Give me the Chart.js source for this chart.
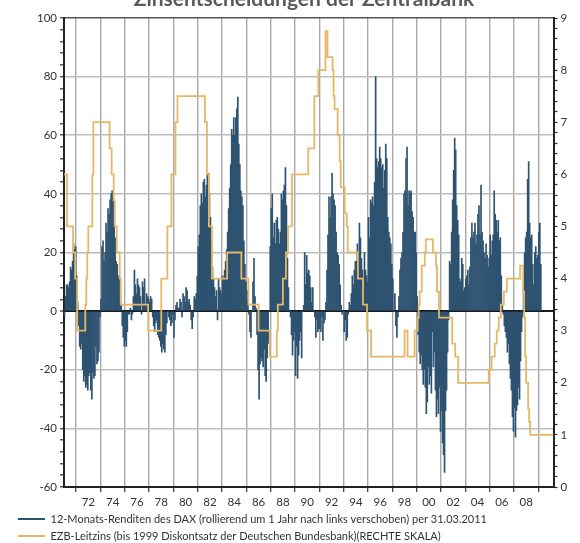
<!DOCTYPE html>
<html lang="de">
<head>
<meta charset="UTF-8">
<title>Zinsentscheidungen der Zentralbank</title>
<script src="https://cdn.jsdelivr.net/npm/chart.js"></script>
<style>
    body { margin: 0; background: #fff; }
    .wrap { position: relative; width: 580px; height: 543px; }
</style>
</head>
<body>
<div class="wrap"><canvas id="chart"></canvas></div>
<script>
    const chartTitle = 'Zinsentscheidungen der Zentralbank';
    const daxLabel = '12-Monats-Renditen des DAX (rollierend um 1 Jahr nach links verschoben) per 31.03.2011';
    const rateLabel = 'EZB-Leitzins (bis 1999 Diskontsatz der Deutschen Bundesbank)(RECHTE SKALA)';

    // DAX 12-month returns in %, monthly, first value = Jan 1971
    const daxStart = 1971;
    const dax1970s = [
        -2, 5, 9, 9, 8, 10, 15, 14, 17, 23, 21, 22,
        12, 3, -5, -12, -13, -11, -20, -24, -22, -26, -25, -27,
        -22, -21, -27, -30, -21, -23, -22, -12, -18, -17, -14, -2,
        4, 22, 24, 17, 20, 30, 27, 35, 33, 38, 40, 41,
        40, 30, 25, 17, 16, 12, 11, 7, 2, -5, -9, -12,
        -10, -12, -7, -1, -1, 1, -3, -1, 5, 14, 9, 6,
        11, 9, 8, 5, -1, 10, 8, 11, 2, 6, 5, 4,
        3, 5, 4, -2, -5, -7, -4, -3, -8, -9, -10, -12,
        -14, -11, -13, -14, -8, -4, 0, -2, -3, -5, -4, -1
    ];
    const dax1980s = [
        -9, -3, 2, 3, 1, 1, 4, 3, -2, 6, 5, 3,
        8, 7, 3, 4, 2, -3, -6, -2, 5, 4, 6, 12,
        22, 26, 36, 40, 37, 44, 45, 39, 43, 47, 47, 40,
        32, 24, 15, 11, 8, 5, 7, -3, 11, 8, 7, 6,
        12, 11, 14, 17, 21, 27, 35, 42, 50, 62, 60, 66,
        60, 66, 69, 73, 57, 50, 41, 39, 36, 24, 16, 10,
        7, 4, -1, -7, -9, 0, 10, 18, 5, 1, -8, -20,
        -30, -18, -16, -17, -19, -13, -22, -24, -16, -11, 0, 22,
        35, 40, 25, 30, 23, 31, 32, 28, 23, 27, 40, 38,
        41, 43, 49, 36, 18, 8, 0, -2, -8, -15, -10, -7
    ];
    const dax1990s = [
        -22, -12, -23, -15, -10, -7, -16, 0, 2, 20, 9, 19,
        13, 14, 12, 8, 3, 8, 0, -2, -9, -3, -7, -6,
        -6, -7, -2, -10, -4, -3, 3, 14, 26, 39, 32, 39,
        47, 40, 38, 36, 27, 20, 19, 16, 9, 2, -1, 0,
        -7, -3, -10, -9, -1, 3, 2, 6, 12, 9, 14, 17,
        17, 23, 20, 30, 25, 18, 14, 7, 20, 14, 12, 10,
        32, 25, 38, 37, 39, 36, 44, 80, 52, 49, 51, 56,
        52, 49, 50, 42, 48, 57, 52, 32, 27, 25, 23, 16,
        11, 0, 6, -5, -9, -2, 5, 14, 18, 20, 27, 40,
        41, 52, 56, 36, 41, 40, 41, 34, 32, 27, 27, 20
    ];
    const dax2000s = [
        5, -8, -14, -18, -15, -20, -25, -20, -26, -35, -31, -19,
        -25, -22, -28, -7, -19, -14, -27, -36, -30, -35, -26, -41,
        -34, -45, -49, -55, -34, -27, -14, -3, 17, 16, 27, 38,
        48, 59, 55, 36, 31, 26, 11, 10, 18, 16, 7, 8,
        11, 12, 14, 9, 15, 25, 30, 25, 27, 30, 23, 26,
        33, 36, 26, 43, 27, 24, 20, 18, 23, 19, 15, 18,
        26, 19, 24, 26, 41, 33, 31, 27, 31, 24, 25, 12,
        2, -1, -5, -7, -9, -14, -11, -18, -23, -27, -36, -41,
        -33, -43, -34, -32, -26, -30, -17, -7, -2, 9, 20, 25,
        27, 45, 51, 30, 25, 26, 16, 9, 20, 22, 18, 19,
        27, 30, 16
    ];

    // key rate in %, value valid from that month on
    const rateMonths = [
        '1971-01', '1971-04', '1971-10', '1971-12', '1972-02', '1972-10', '1972-11', '1972-12',
        '1973-01', '1973-05', '1973-06', '1974-10', '1974-12', '1975-02', '1975-03', '1975-05',
        '1975-08', '1975-09', '1977-12', '1979-01', '1979-07', '1979-11', '1980-03', '1980-05',
        '1982-08', '1982-10', '1982-12', '1983-03', '1984-06', '1985-08', '1986-03', '1987-01',
        '1987-12', '1988-07', '1988-08', '1989-01', '1989-04', '1989-06', '1989-10', '1991-02',
        '1991-08', '1991-12', '1992-07', '1992-09', '1993-02', '1993-03', '1993-04', '1993-07',
        '1993-09', '1993-10', '1994-02', '1994-04', '1994-05', '1995-03', '1995-08', '1995-12',
        '1996-04', '1999-01', '1999-04', '1999-11', '2000-02', '2000-03', '2000-04', '2000-06',
        '2000-09', '2000-10', '2001-05', '2001-08', '2001-09', '2001-11', '2002-12', '2003-03',
        '2003-06', '2005-12', '2006-03', '2006-06', '2006-08', '2006-10', '2006-12', '2007-03',
        '2007-06', '2008-07', '2008-10', '2008-11', '2008-12', '2009-01', '2009-03', '2009-04',
        '2009-05', '2011-04'
    ];
    const rateValues = [
        6, 5, 4.5, 4, 3, 3.5, 4, 4.5,
        5, 6, 7, 6.5, 6, 5.5, 5, 4.5,
        4, 3.5, 3, 4, 5, 6, 7, 7.5,
        7, 6, 5, 4, 4.5, 4, 3.5, 3,
        2.5, 3, 3.5, 4, 4.5, 5, 6, 6.5,
        7.5, 8, 8.75, 8.25, 8, 7.5, 7.25, 6.75,
        6.25, 5.75, 5.25, 5, 4.5, 4, 3.5, 3,
        2.5, 3, 2.5, 3, 3.25, 3.5, 3.75, 4.25,
        4.5, 4.75, 4.5, 4.25, 3.75, 3.25, 2.75, 2.5,
        2, 2.25, 2.5, 2.75, 3, 3.25, 3.5, 3.75,
        4, 4.25, 3.75, 3.25, 2.5, 2, 1.5, 1.25,
        1, 1
    ];

    const xTickLabels = ['72', '74', '76', '78', '80', '82', '84', '86', '88', '90',
                         '92', '94', '96', '98', '00', '02', '04', '06', '08'];

    const daxColor = '#2e5371';
    const rateColor = '#e5b865';

    const daxValues = dax1970s.concat(dax1980s, dax1990s, dax2000s);
    const daxPoints = daxValues.map((v, i) => ({ x: daxStart + (i + 0.5) / 12, y: v }));
    const ratePoints = rateMonths.map((m, i) => {
        const [yy, mm] = m.split('-').map(Number);
        return { x: yy + (mm - 1) / 12, y: rateValues[i] };
    });
    // each label sits in the middle of its two-year span
    const xTickValues = xTickLabels.map(l => {
        const n = Number(l);
        return (n < 50 ? 2000 : 1900) + n + 1;
    });

    Chart.defaults.font.family = 'Lato';
    Chart.defaults.font.size = 11.5;
    Chart.defaults.color = '#333';

    const cutTitle = {
        id: 'cutTitle',
        afterDraw(chart) {
            const c = chart.ctx;
            c.save();
            c.font = 'bold 21px Lato';
            c.fillStyle = '#5a5a5a';
            c.textAlign = 'center';
            c.textBaseline = 'alphabetic';
            c.fillText(chartTitle, 304, 6);
            c.restore();
        }
    };

    const isWhole = v => Math.abs(v - Math.round(v)) < 1e-6;

    new Chart(document.getElementById('chart'), {
        type: 'bar',
        data: {
            datasets: [{
                label: daxLabel,
                data: daxPoints,
                backgroundColor: daxColor,
                borderWidth: 0,
                barPercentage: 1,
                categoryPercentage: 1,
                yAxisID: 'y',
                order: 1
            }, {
                type: 'line',
                label: rateLabel,
                data: ratePoints,
                borderColor: rateColor,
                backgroundColor: rateColor,
                borderWidth: 1.8,
                pointRadius: 0,
                stepped: true,
                yAxisID: 'y1',
                order: 0
            }]
        },
        options: {
            responsive: true,
            maintainAspectRatio: false,
            animation: false,
            layout: { padding: { left: 12, right: 4, top: 18, bottom: -8.5 } },
            plugins: {
                tooltip: { enabled: false },
                legend: {
                    position: 'bottom',
                    align: 'start',
                    labels: {
                        boxWidth: 27,
                        boxHeight: 2,
                        padding: 6,
                        color: '#333',
                        font: { size: 11 },
                        sort: (a, b) => a.datasetIndex - b.datasetIndex,
                        generateLabels(chart) {
                            return Chart.defaults.plugins.legend.labels.generateLabels(chart).map(item => {
                                const col = item.datasetIndex === 0 ? daxColor : rateColor;
                                item.fillStyle = col;
                                item.strokeStyle = col;
                                item.lineWidth = 0;
                                return item;
                            });
                        }
                    }
                }
            },
            scales: {
                x: {
                    type: 'linear',
                    offset: false,
                    min: 1971,
                    max: 2011.25,
                    afterBuildTicks(scale) {
                        scale.ticks = xTickValues.map(v => ({ value: v }));
                    },
                    afterFit(scale) { scale.height = 20.5; },
                    ticks: {
                        autoSkip: false,
                        maxRotation: 0,
                        padding: 3,
                        callback: (v, i) => xTickLabels[i]
                    },
                    grid: {
                        offset: true,
                        color: '#a8a8a8',
                        lineWidth: 1.4,
                        tickLength: 5,
                        tickColor: '#333',
                        tickWidth: 1.2
                    },
                    border: { color: '#222', width: 2 }
                },
                y: {
                    position: 'left',
                    min: -60,
                    max: 100,
                    afterFit(scale) { scale.width = 52; },
                    ticks: {
                        stepSize: 4,
                        autoSkip: false,
                        padding: 3,
                        callback: v => (v % 20 === 0 ? String(v) : '')
                    },
                    grid: {
                        color: c => {
                            const v = c.tick.value;
                            if (v === 0) return '#1a1a1a';
                            if (v === 100) return '#555';
                            if (v % 20 === 0) return '#bdbdbd';
                            return 'rgba(0,0,0,0)';
                        },
                        lineWidth: c => (c.tick.value === 0 ? 2 : 1.6),
                        tickLength: 4,
                        tickColor: '#333',
                        tickWidth: 1.2
                    },
                    border: { color: '#222', width: 2 }
                },
                y1: {
                    position: 'right',
                    min: 0,
                    max: 9,
                    afterFit(scale) { scale.width = 22.5; },
                    ticks: {
                        stepSize: 0.2,
                        autoSkip: false,
                        padding: 3,
                        callback: v => (isWhole(v) ? String(Math.round(v)) : '')
                    },
                    grid: {
                        drawOnChartArea: false,
                        tickLength: 4,
                        tickColor: '#333',
                        tickWidth: 1.2
                    },
                    border: { color: '#222', width: 2 }
                }
            }
        },
        plugins: [cutTitle]
    });
</script>
</body>
</html>
